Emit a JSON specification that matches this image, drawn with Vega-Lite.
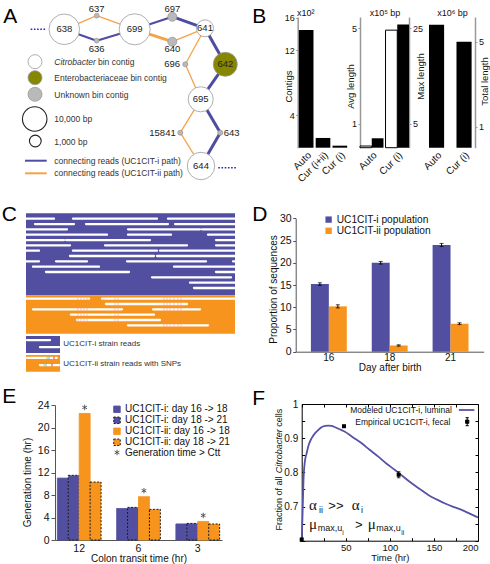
{
"$schema":"https://vega.github.io/schema/vega-lite/v6.json",
"padding":0,
"columns":2,
"spacing":0,
"bounds":"flush",
"align":"each",
"resolve":{
 "scale":{"x":"independent","y":"independent","xOffset":"independent","color":"independent","fill":"independent","stroke":"independent","strokeDash":"independent","size":"independent","shape":"independent","strokeWidth":"independent"},
 "legend":{"color":"independent","fill":"independent","stroke":"independent","strokeDash":"independent","size":"independent","shape":"independent","strokeWidth":"independent"},
 "axis":{"x":"independent","y":"independent"}
},
"config":{
 "view":{"stroke":null},
 "font":"Liberation Sans",
 "axis":{"grid":false,"labelOverlap":false,"labelFont":"Liberation Sans","titleFont":"Liberation Sans","titleFontWeight":"normal","labelColor":"#111","titleColor":"#111"},
 "legend":{"labelFont":"Liberation Sans","labelColor":"#111","padding":0},
 "text":{"font":"Liberation Sans"}
},
"datasets":{
 "nodes":[
  {"id":"638","x":64.3,"y":29.3,"kind":"Citrobacter","length":20000},
  {"id":"699","x":134.7,"y":29.3,"kind":"Citrobacter","length":21000},
  {"id":"637","x":96.7,"y":15.7,"kind":"Unknown","length":60},
  {"id":"636","x":96.7,"y":40.7,"kind":"Unknown","length":60},
  {"id":"697","x":172.3,"y":16.7,"kind":"Unknown","length":440},
  {"id":"640","x":172.3,"y":41.7,"kind":"Unknown","length":440},
  {"id":"641","x":205,"y":28.3,"kind":"Citrobacter","length":3200},
  {"id":"642","x":225.3,"y":64.3,"kind":"Enterobacteriaceae","length":9400},
  {"id":"696","x":185.3,"y":64.3,"kind":"Unknown","length":70},
  {"id":"695","x":200.7,"y":99.3,"kind":"Citrobacter","length":10700},
  {"id":"15841","x":180.3,"y":132.7,"kind":"Unknown","length":70},
  {"id":"643","x":220.3,"y":132.7,"kind":"Unknown","length":70},
  {"id":"644","x":201,"y":166,"kind":"Citrobacter","length":14300}
 ],
 "edges":[
  {"from":"638","to":"637","path":"UC1CIT-ii","reads":1},
  {"from":"637","to":"699","path":"UC1CIT-ii","reads":1},
  {"from":"638","to":"636","path":"UC1CIT-i","reads":2},
  {"from":"636","to":"699","path":"UC1CIT-i","reads":2},
  {"from":"699","to":"697","path":"UC1CIT-i","reads":2},
  {"from":"697","to":"641","path":"UC1CIT-i","reads":3},
  {"from":"699","to":"640","path":"UC1CIT-ii","reads":3},
  {"from":"640","to":"641","path":"UC1CIT-ii","reads":1},
  {"from":"641","to":"642","path":"UC1CIT-i","reads":3},
  {"from":"642","to":"695","path":"UC1CIT-i","reads":3},
  {"from":"641","to":"696","path":"UC1CIT-ii","reads":1},
  {"from":"696","to":"695","path":"UC1CIT-ii","reads":1},
  {"from":"695","to":"15841","path":"UC1CIT-ii","reads":1},
  {"from":"15841","to":"644","path":"UC1CIT-ii","reads":1},
  {"from":"695","to":"643","path":"UC1CIT-i","reads":3},
  {"from":"643","to":"644","path":"UC1CIT-i","reads":3}
 ],
 "adots":[{"x":30.7,"x2":46.7,"y":29.3},{"x":218.3,"x2":236,"y":167.7}],
 "alabels":[
  {"id":"638","x":64.3,"y":29.3,"anchor":"middle"},
  {"id":"699","x":134.7,"y":29.3,"anchor":"middle"},
  {"id":"641","x":205,"y":28.3,"anchor":"middle"},
  {"id":"642","x":225.3,"y":64.3,"anchor":"middle"},
  {"id":"695","x":200.7,"y":99.3,"anchor":"middle"},
  {"id":"644","x":201,"y":166,"anchor":"middle"},
  {"id":"637","x":96.7,"y":9,"anchor":"middle"},
  {"id":"636","x":96.7,"y":49,"anchor":"middle"},
  {"id":"697","x":172.3,"y":9.3,"anchor":"middle"},
  {"id":"640","x":172.3,"y":49.3,"anchor":"middle"},
  {"id":"696","x":180,"y":64.3,"anchor":"end"},
  {"id":"15841","x":175.7,"y":132.7,"anchor":"end"},
  {"id":"643","x":223.7,"y":132.7,"anchor":"start"}
 ],
 "akind":[{"kind":"Citrobacter","x":35,"y":61.7},{"kind":"Enterobacteriaceae","x":35,"y":77.7},{"kind":"Unknown","x":35,"y":94.3}],
 "asize":[{"length":10000,"x":34.7,"y":119},{"length":1000,"x":35.3,"y":141}],
 "alines":[{"path":"UC1CIT-i","x":25,"x2":46.7,"y":160.7},{"path":"UC1CIT-ii","x":25,"x2":46.7,"y":173.3}],
 "atext":[
  {"text":"bin contig","x":98,"y":62.3},
  {"text":"Enterobacteriaceae bin contig","x":54.3,"y":78.3},
  {"text":"Unknown bin contig","x":54.3,"y":95},
  {"text":"10,000 bp","x":54.3,"y":119.3},
  {"text":"1,000 bp","x":54.3,"y":141.7},
  {"text":"connecting reads (UC1CIT-i path)","x":54.3,"y":160.7},
  {"text":"connecting reads (UC1CIT-ii path)","x":54.3,"y":173.3}
 ],
 "aital":[{"text":"Citrobacter","x":54.3,"y":62.3}],
 "aletter":[{"text":"A","x":3.3,"y":23.3}],
 "cletter":[{"text":"C","x":1.7,"y":1.49}],
 "cblocks":[
  {"x":26,"x2":235,"y":0,"y2":15.37,"strain":"UC1CIT-i"},
  {"x":26,"x2":235,"y":15.37,"y2":22.6,"strain":"UC1CIT-ii"},
  {"x":26,"x2":60,"y":23.0,"y2":26.2,"strain":"UC1CIT-i"},
  {"x":26,"x2":60,"y":26.55,"y2":29.7,"strain":"UC1CIT-ii"}
 ],
 "creads":[
  {"y":1,"x":26,"x2":54},{"y":1,"x":73,"x2":157},{"y":1,"x":168,"x2":235},
  {"y":2,"x":35,"x2":74},{"y":2,"x":86,"x2":168},{"y":2,"x":175,"x2":235},
  {"y":3,"x":26,"x2":67},{"y":3,"x":128,"x2":200},{"y":3,"x":202,"x2":235},
  {"y":4,"x":26,"x2":107},{"y":4,"x":128,"x2":171},{"y":4,"x":208,"x2":235},
  {"y":5,"x":26,"x2":64},{"y":5,"x":66,"x2":150},{"y":5,"x":216,"x2":235},
  {"y":6,"x":26,"x2":70},{"y":6,"x":105,"x2":187},{"y":6,"x":216,"x2":235},
  {"y":7,"x":26,"x2":39},{"y":7,"x":73,"x2":157},{"y":7,"x":160,"x2":235},
  {"y":8,"x":70,"x2":154},{"y":8,"x":157,"x2":235},
  {"y":9,"x":26,"x2":39},{"y":9,"x":56,"x2":87},{"y":9,"x":127,"x2":206},{"y":9,"x":233,"x2":235},
  {"y":10,"x":33,"x2":99},{"y":10,"x":174,"x2":235},
  {"y":11,"x":46,"x2":129},{"y":11,"x":216,"x2":235},
  {"y":12,"x":152,"x2":231},
  {"y":13,"x":190,"x2":235},
  {"y":14,"x":194,"x2":235}
 ],
 "creads2":[
  {"y":16,"x":26,"x2":89,"snps":[78,81,84,87]},
  {"y":16,"x":102,"x2":235,"snps":[115,118,164,167,170,174,178,181]},
  {"y":17,"x":106,"x2":187,"snps":[115,118,164,167,170,174,178,181]},
  {"y":18,"x":33,"x2":122,"snps":[78,81,84,87,115,118]},
  {"y":18,"x":153,"x2":200,"snps":[164,167,170,174,178,181]},
  {"y":19,"x":71,"x2":154,"snps":[78,81,84,87,115,118]},
  {"y":20,"x":77,"x2":160,"snps":[78,81,84,87,115,118]},
  {"y":21,"x":128,"x2":208,"snps":[164,167,170,174,178,181]}
 ],
 "clines":[{"x":27,"x2":50,"y":23.76},{"x":40,"x2":59,"y":25.1},{"x":27,"x2":56.7,"y":27.1},{"x":40,"x2":59,"y":28.45}],
 "csnp":[{"x":47,"y":27.1,"base":"G"},{"x":49,"y":27.1,"base":"C"},{"x":54,"y":27.1,"base":"T"},{"x":44,"y":28.45,"base":"G"},{"x":46,"y":28.45,"base":"C"},{"x":52,"y":28.45,"base":"T"}],
 "ctext":[{"text":"UC1CIT-i strain reads","x":63.3,"y":24.56},{"text":"UC1CIT-ii strain reads with SNPs","x":63.3,"y":28.2}],
 "bcontigs":[{"cat":"Auto","contigs":14.5},{"cat":"Cur (i+ii)","contigs":1.2},{"cat":"Cur (i)","contigs":0.25}],
 "blength":[{"cat":"Auto","avg":0.07,"max":1.97},{"cat":"Cur (i)","avg":4.92,"max":25.8}],
 "btotal":[{"cat":"Auto","total":5.8},{"cat":"Cur (i)","total":5.0}],
 "ddata":[
  {"day":"16","pop":"UC1CIT-i population","value":15.2,"lo":14.9,"hi":15.5},
  {"day":"16","pop":"UC1CIT-ii population","value":10.2,"lo":9.85,"hi":10.55},
  {"day":"18","pop":"UC1CIT-i population","value":20.0,"lo":19.7,"hi":20.3},
  {"day":"18","pop":"UC1CIT-ii population","value":1.4,"lo":1.25,"hi":1.55},
  {"day":"21","pop":"UC1CIT-i population","value":24.0,"lo":23.65,"hi":24.35},
  {"day":"21","pop":"UC1CIT-ii population","value":6.3,"lo":6.1,"hi":6.5}
 ],
 "edata":[
  {"ctt":"12","series":"UC1CIT-i: day 16 -> 18","gen":11.0},
  {"ctt":"12","series":"UC1CIT-i: day 18 -> 21","gen":11.5},
  {"ctt":"12","series":"UC1CIT-ii: day 16 -> 18","gen":22.5},
  {"ctt":"12","series":"UC1CIT-ii: day 18 -> 21","gen":10.3},
  {"ctt":"6","series":"UC1CIT-i: day 16 -> 18","gen":5.6},
  {"ctt":"6","series":"UC1CIT-i: day 18 -> 21","gen":5.8},
  {"ctt":"6","series":"UC1CIT-ii: day 16 -> 18","gen":7.7},
  {"ctt":"6","series":"UC1CIT-ii: day 18 -> 21","gen":5.45},
  {"ctt":"3","series":"UC1CIT-i: day 16 -> 18","gen":2.85},
  {"ctt":"3","series":"UC1CIT-i: day 18 -> 21","gen":2.95},
  {"ctt":"3","series":"UC1CIT-ii: day 16 -> 18","gen":3.3},
  {"ctt":"3","series":"UC1CIT-ii: day 18 -> 21","gen":2.85}
 ],
 "fcurve":[
  {"t":0,"v":0.6},{"t":1,"v":0.68},{"t":2,"v":0.775},{"t":3.5,"v":0.83},{"t":5.6,"v":0.856},{"t":8,"v":0.881},
  {"t":11.3,"v":0.9},{"t":15,"v":0.914},{"t":18.9,"v":0.924},{"t":22,"v":0.931},{"t":26.4,"v":0.936},{"t":30.2,"v":0.937},
  {"t":34,"v":0.936},{"t":37.8,"v":0.932},{"t":43,"v":0.926},{"t":49.1,"v":0.919},{"t":58,"v":0.903},{"t":68.1,"v":0.885},
  {"t":77,"v":0.866},{"t":86.9,"v":0.846},{"t":96,"v":0.826},{"t":105.8,"v":0.807},{"t":115,"v":0.788},{"t":124.8,"v":0.768},
  {"t":134,"v":0.751},{"t":143.6,"v":0.734},{"t":153,"v":0.721},{"t":162.6,"v":0.709},{"t":172,"v":0.699},{"t":181.5,"v":0.69},
  {"t":190,"v":0.68},{"t":200,"v":0.668}
 ],
 "femp":[{"t":0,"v":0.603,"lo":0.598,"hi":0.608},{"t":48,"v":0.935,"lo":0.933,"hi":0.937},{"t":110,"v":0.793,"lo":0.784,"hi":0.802}],
 "fann":[
  {"t":8.3,"v":0.69,"text":"α","role":"greek"},
  {"t":19.6,"v":0.681,"text":"ii","role":"sub"},
  {"t":30.2,"v":0.69,"text":">>","role":"op"},
  {"t":56.7,"v":0.69,"text":"α","role":"greek"},
  {"t":67.3,"v":0.681,"text":"i","role":"sub"},
  {"t":8.3,"v":0.634,"text":"μ","role":"greek"},
  {"t":18.1,"v":0.627,"text":"max,u","role":"sub"},
  {"t":46.1,"v":0.618,"text":"i","role":"subsub"},
  {"t":60.5,"v":0.634,"text":">","role":"op"},
  {"t":75,"v":0.634,"text":"μ","role":"greek"},
  {"t":84.7,"v":0.627,"text":"max,u","role":"sub"},
  {"t":113,"v":0.618,"text":"ii","role":"subsub"}
 ]
},
"concat":[
 {
  "width":250,"height":190,
  "encoding":{
   "x":{"field":"x","type":"quantitative","scale":{"domain":[0,250],"range":[0,250],"nice":false,"zero":false},"axis":null},
   "y":{"field":"y","type":"quantitative","scale":{"domain":[0,190],"range":[0,190],"nice":false,"zero":false},"axis":null}
  },
  "layer":[
   {"data":{"name":"edges"},
    "transform":[
     {"lookup":"from","from":{"data":{"name":"nodes"},"key":"id","fields":["x","y"]}},
     {"lookup":"to","from":{"data":{"name":"nodes"},"key":"id","fields":["x","y"]},"as":["x2","y2"]}
    ],
    "mark":{"type":"rule"},
    "encoding":{"x2":{"field":"x2"},"y2":{"field":"y2"},
     "color":{"field":"path","type":"nominal","scale":{"domain":["UC1CIT-i","UC1CIT-ii"],"range":["#4f4d9f","#f5a24a"]},"legend":null},
     "strokeWidth":{"field":"reads","type":"quantitative","scale":{"domain":[1,3],"range":[1.3,3]},"legend":null}}},
   {"data":{"name":"adots"},"mark":{"type":"rule","color":"#2b2bb0","strokeWidth":1.6,"strokeDash":[1.6,1.6]},"encoding":{"x2":{"field":"x2"}}},
   {"data":{"name":"alines"},"mark":{"type":"rule","strokeWidth":2},"encoding":{"x2":{"field":"x2"},"color":{"field":"path","type":"nominal","legend":null}}},
   {"data":{"name":"nodes"},"mark":{"type":"circle","opacity":1,"stroke":"#9a9a9a","strokeWidth":0.8},
    "encoding":{"size":{"field":"length","type":"quantitative","scale":{"type":"pow","exponent":0.64,"domain":[0,10000],"range":[0,600]},"legend":null},
     "fill":{"field":"kind","type":"nominal","scale":{"domain":["Citrobacter","Enterobacteriaceae","Unknown"],"range":["#ffffff","#878600","#b9b9b9"]},"legend":null}}},
   {"data":{"name":"akind"},"mark":{"type":"circle","opacity":1,"size":196,"stroke":"#9a9a9a","strokeWidth":0.8},"encoding":{"fill":{"field":"kind","type":"nominal","legend":null}}},
   {"data":{"name":"asize"},"mark":{"type":"circle","opacity":1,"fill":"#ffffff","stroke":"#222","strokeWidth":1.1},"encoding":{"size":{"field":"length","type":"quantitative","legend":null}}},
   {"data":{"name":"alabels"},"transform":[{"filter":"datum.anchor=='middle'"}],"mark":{"type":"text","fontSize":9.5,"color":"#222","baseline":"middle","align":"center"},"encoding":{"text":{"field":"id","type":"nominal"}}},
   {"data":{"name":"alabels"},"transform":[{"filter":"datum.anchor=='end'"}],"mark":{"type":"text","fontSize":9.5,"color":"#222","baseline":"middle","align":"right"},"encoding":{"text":{"field":"id","type":"nominal"}}},
   {"data":{"name":"alabels"},"transform":[{"filter":"datum.anchor=='start'"}],"mark":{"type":"text","fontSize":9.5,"color":"#222","baseline":"middle","align":"left"},"encoding":{"text":{"field":"id","type":"nominal"}}},
   {"data":{"name":"atext"},"mark":{"type":"text","fontSize":8.5,"color":"#333","align":"left","baseline":"middle"},"encoding":{"text":{"field":"text","type":"nominal"}}},
   {"data":{"name":"aital"},"mark":{"type":"text","fontSize":8.5,"color":"#333","align":"left","baseline":"middle","fontStyle":"italic"},"encoding":{"text":{"field":"text","type":"nominal"}}},
   {"data":{"name":"aletter"},"mark":{"type":"text","fontSize":21,"color":"#000","align":"left","baseline":"alphabetic"},"encoding":{"text":{"field":"text","type":"nominal"}}}
  ]
 },
 {
  "width":240,"height":190,
  "resolve":{"scale":{"x":"independent","y":"independent"},"axis":{"x":"independent","y":"independent"}},
  "layer":[
   {"data":{"name":"bcontigs"},
    "mark":{"type":"bar","color":"#000"},
    "encoding":{
     "x":{"field":"cat","type":"nominal","sort":["Auto","Cur (i+ii)","Cur (i)"],"scale":{"range":[48,98],"paddingInner":0.13,"paddingOuter":0.05},
      "axis":{"orient":"bottom","offset":-42.3,"labelAngle":-45,"domain":false,"ticks":false,"labelPadding":2,"labelFontSize":10,"title":"x10²","titleFontSize":9,"titleX":46.5,"titleY":-132.5,"titleAlign":"left","titleBaseline":"alphabetic","titleAngle":0}},
     "y":{"field":"contigs","type":"quantitative","scale":{"domain":[0,16.1],"range":[147.7,17],"nice":false,"zero":false},
      "axis":{"orient":"left","offset":-47.7,"values":[4,12,16],"domainColor":"#999","domainWidth":1.5,"tickColor":"#999","tickSize":2,"labelPadding":1.5,"labelFontSize":9,"title":"Contigs","titleFontSize":9.5,"titleX":-9.4,"titleY":86,"titleAngle":270,"titleBaseline":"middle","titleAlign":"center"}}
    }},
   {"data":{"name":"blength"},
    "transform":[{"fold":["avg","max"],"as":["measure","value"]},{"filter":"datum.measure=='avg'"}],
    "mark":{"type":"bar","fill":"#fff","stroke":"#000","strokeWidth":1},
    "encoding":{
     "x":{"field":"cat","type":"nominal","sort":["Auto","Cur (i)"],"scale":{"range":[110,159],"paddingInner":0.08,"paddingOuter":0},
      "axis":{"orient":"bottom","offset":-42.3,"labelAngle":-45,"domain":false,"ticks":false,"labelPadding":2,"labelFontSize":10,"title":"x10⁵ bp","titleFontSize":9,"titleX":134.5,"titleY":-132.5,"titleAlign":"center","titleBaseline":"alphabetic","titleAngle":0}},
     "xOffset":{"field":"measure","type":"nominal","scale":{"domain":["avg","max"]}},
     "y":{"field":"value","type":"quantitative","scale":{"domain":[0,5.47],"range":[147.7,17],"nice":false,"zero":false},
      "axis":{"orient":"left","offset":-110,"values":[1,5],"domainColor":"#999","domainWidth":1.5,"tickColor":"#999","tickSize":2,"labelPadding":1.5,"labelFontSize":9,"title":"Avg length","titleFontSize":9.5,"titleX":-10,"titleY":86,"titleAngle":270,"titleBaseline":"middle","titleAlign":"center"}}
    }},
   {"data":{"name":"blength"},
    "transform":[{"fold":["avg","max"],"as":["measure","value"]},{"filter":"datum.measure=='max'"}],
    "mark":{"type":"bar","color":"#000"},
    "encoding":{
     "x":{"field":"cat","type":"nominal","sort":["Auto","Cur (i)"],"scale":{"range":[110,159],"paddingInner":0.08,"paddingOuter":0},
      "axis":{"orient":"bottom","offset":-42.3,"domain":false,"ticks":false,"labels":false,"title":"B","titleFontSize":21,"titleColor":"#000","titleX":1.7,"titleY":-125.7,"titleAlign":"left","titleBaseline":"alphabetic","titleAngle":0}},
     "xOffset":{"field":"measure","type":"nominal","scale":{"domain":["avg","max"]}},
     "y":{"field":"value","type":"quantitative","scale":{"domain":[0,27.35],"range":[147.7,17],"nice":false,"zero":false},
      "axis":{"orient":"right","offset":-81,"values":[5,25],"domainColor":"#999","domainWidth":1.5,"tickColor":"#999","tickSize":2,"labelPadding":1.5,"labelFontSize":9,"title":"Max length","titleFontSize":9.5,"titleX":11,"titleY":76,"titleAngle":270,"titleBaseline":"middle","titleAlign":"center"}}
    }},
   {"data":{"name":"btotal"},
    "mark":{"type":"bar","color":"#000"},
    "encoding":{
     "x":{"field":"cat","type":"nominal","sort":["Auto","Cur (i)"],"scale":{"range":[173.5,227.1],"paddingInner":0.45,"paddingOuter":0.2},
      "axis":{"orient":"bottom","offset":-42.3,"labelAngle":-45,"domain":false,"ticks":false,"labelPadding":2,"labelFontSize":10,"title":"x10⁶ bp","titleFontSize":9,"titleX":202,"titleY":-132.5,"titleAlign":"center","titleBaseline":"alphabetic","titleAngle":0}},
     "y":{"field":"total","type":"quantitative","scale":{"domain":[0,6.17],"range":[147.7,17],"nice":false,"zero":false},
      "axis":{"orient":"right","offset":-15,"values":[1,5],"domainColor":"#999","domainWidth":1.5,"tickColor":"#999","tickSize":2,"labelPadding":1.5,"labelFontSize":9,"title":"Total length","titleFontSize":9.5,"titleX":9,"titleY":81,"titleAngle":270,"titleBaseline":"middle","titleAlign":"center"}}
    }}
  ]
 },
 {
  "width":250,"height":190,
  "encoding":{
   "x":{"field":"x","type":"quantitative","scale":{"domain":[0,250],"range":[0,250],"nice":false,"zero":false},"axis":null},
   "y":{"field":"y","type":"quantitative","scale":{"domain":[0,30],"range":[23.37,183.3],"nice":false,"zero":false},"axis":null}
  },
  "layer":[
   {"data":{"name":"cblocks"},"mark":{"type":"rect"},"encoding":{"x2":{"field":"x2"},"y2":{"field":"y2"},
     "fill":{"field":"strain","type":"nominal","scale":{"domain":["UC1CIT-i","UC1CIT-ii"],"range":["#524fa1","#f7941d"]},"legend":null}}},
   {"data":{"name":"creads"},"mark":{"type":"rule","color":"#ffffff","strokeWidth":2.3,"strokeCap":"round"},"encoding":{"x2":{"field":"x2"}}},
   {"data":{"name":"creads2"},"mark":{"type":"rule","color":"#ffffff","strokeWidth":2.3,"strokeCap":"round"},"encoding":{"x2":{"field":"x2"}}},
   {"data":{"name":"creads2"},"transform":[{"flatten":["snps"],"as":["snp"]}],"mark":{"type":"tick","orient":"vertical","color":"#f29bb6","thickness":0.9,"size":2.6},
    "encoding":{"x":{"field":"snp","type":"quantitative","axis":null}}},
   {"data":{"name":"clines"},"mark":{"type":"rule","color":"#ffffff","strokeWidth":2.3,"strokeCap":"round"},"encoding":{"x2":{"field":"x2"}}},
   {"data":{"name":"csnp"},"mark":{"type":"tick","orient":"vertical","thickness":1.2,"size":2.6},
    "encoding":{"color":{"field":"base","type":"nominal","scale":{"domain":["G","C","T"],"range":["#8cc63f","#29abe2","#d7191c"]},"legend":null}}},
   {"data":{"name":"ctext"},"mark":{"type":"text","fontSize":8,"color":"#333","align":"left","baseline":"middle"},"encoding":{"text":{"field":"text","type":"nominal"}}},
   {"data":{"name":"cletter"},"mark":{"type":"text","fontSize":21,"color":"#000","align":"left","baseline":"alphabetic"},"encoding":{"text":{"field":"text","type":"nominal"}}}
  ]
 },
 {
  "width":240,"height":190,
  "data":{"name":"ddata"},
  "resolve":{"axis":{"y":"independent"}},
  "encoding":{
   "x":{"field":"day","type":"nominal","sort":["16","18","21"],"scale":{"range":[45.7,233.7],"paddingInner":0.41,"paddingOuter":0.25},
    "axis":{"orient":"bottom","offset":-28.3,"labelAngle":0,"ticks":false,"labelPadding":1,"labelFontSize":10,"title":"Day after birth","titleFontSize":10,"titleY":19,"titleBaseline":"alphabetic","domainColor":"#555"}},
   "xOffset":{"field":"pop","type":"nominal","sort":["UC1CIT-i population","UC1CIT-ii population"]}
  },
  "layer":[
   {"mark":{"type":"bar"},
    "encoding":{
     "y":{"field":"value","type":"quantitative","scale":{"domain":[0,30],"range":[161.7,28.3],"nice":false,"zero":false},
      "axis":{"orient":"left","offset":-45.7,"values":[0,5,10,15,20,25,30],"tickSize":3,"labelPadding":1.5,"labelFontSize":10.5,"title":"Proportion of sequences","titleFontSize":10,"titleX":-22.4,"titleY":99,"titleAngle":270,"titleBaseline":"middle","titleAlign":"center","domainColor":"#555","tickColor":"#555"}},
     "color":{"field":"pop","type":"nominal","scale":{"domain":["UC1CIT-i population","UC1CIT-ii population"],"range":["#524fa1","#f7941d"]},
      "legend":{"orient":"none","legendX":73.5,"legendY":24.5,"title":null,"symbolType":"square","symbolSize":40,"symbolStrokeWidth":0,"labelFontSize":10.2,"rowPadding":0.2,"labelOffset":3}}
    }},
   {"mark":{"type":"rule","color":"#000","strokeWidth":1},"encoding":{
     "y":{"field":"lo","type":"quantitative","axis":{"orient":"left","offset":-45.7,"domain":false,"ticks":false,"labels":false,"title":"D","titleFontSize":21,"titleColor":"#000","titleAngle":0,"titleX":-44,"titleY":30.5,"titleAlign":"left","titleBaseline":"alphabetic"}},
     "y2":{"field":"hi"}}},
   {"mark":{"type":"tick","color":"#000","thickness":1,"size":4},"encoding":{"y":{"field":"lo","type":"quantitative","axis":null}}},
   {"mark":{"type":"tick","color":"#000","thickness":1,"size":4},"encoding":{"y":{"field":"hi","type":"quantitative","axis":null}}}
  ]
 },
 {
  "width":250,"height":184,
  "data":{"name":"edata"},
  "resolve":{"axis":{"y":"independent"}},
  "encoding":{
   "x":{"field":"ctt","type":"nominal","sort":["12","6","3"],"scale":{"range":[55,222],"paddingInner":0.263,"paddingOuter":0.04},
    "axis":{"orient":"bottom","offset":-24,"labelAngle":0,"ticks":false,"labelPadding":3,"labelFontSize":10.5,"title":"Colon transit time (hr)","titleFontSize":10,"titleY":21,"titleBaseline":"alphabetic","domainColor":"#555"}},
   "xOffset":{"field":"series","type":"nominal","sort":["UC1CIT-i: day 16 -> 18","UC1CIT-i: day 18 -> 21","UC1CIT-ii: day 16 -> 18","UC1CIT-ii: day 18 -> 21"]}
  },
  "layer":[
   {"mark":{"type":"bar","strokeWidth":1},
    "encoding":{
     "y":{"field":"gen","type":"quantitative","scale":{"domain":[0,24],"range":[160,25],"nice":false,"zero":false},
      "axis":{"orient":"left","offset":-55,"values":[0,4,8,12,16,20,24],"tickSize":4,"labelPadding":2,"labelFontSize":10.5,"title":"Generation time (hr)","titleFontSize":10,"titleX":-27.5,"titleY":102,"titleAngle":270,"titleBaseline":"middle","titleAlign":"center","domainColor":"#555","tickColor":"#555"}},
     "fill":{"field":"series","type":"nominal","scale":{"domain":["UC1CIT-i: day 16 -> 18","UC1CIT-i: day 18 -> 21","UC1CIT-ii: day 16 -> 18","UC1CIT-ii: day 18 -> 21"],"range":["#524fa1","#524fa1","#f7941d","#f7941d"]},
      "legend":{"orient":"none","legendX":112,"legendY":24.3,"title":null,"symbolType":"square","symbolSize":42,"labelFontSize":10,"rowPadding":-2.2,"labelOffset":3,"symbolStrokeWidth":1}},
     "stroke":{"field":"series","type":"nominal","scale":{"domain":["UC1CIT-i: day 16 -> 18","UC1CIT-i: day 18 -> 21","UC1CIT-ii: day 16 -> 18","UC1CIT-ii: day 18 -> 21"],"range":["#524fa1","#1a1a1a","#f7941d","#1a1a1a"]}},
     "strokeDash":{"field":"series","type":"nominal","scale":{"domain":["UC1CIT-i: day 16 -> 18","UC1CIT-i: day 18 -> 21","UC1CIT-ii: day 16 -> 18","UC1CIT-ii: day 18 -> 21"],"range":[[1,0],[2,1.5],[1,0],[2,1.5]]}}
    }},
   {"transform":[{"filter":"datum.gen > toNumber(datum.ctt)"}],
    "mark":{"type":"point","filled":false,"size":30,"strokeWidth":0.9,"color":"#000","yOffset":-6},
    "encoding":{
     "y":{"field":"gen","type":"quantitative","axis":{"orient":"left","offset":-55,"domain":false,"ticks":false,"labels":false,"title":"E","titleFontSize":21,"titleColor":"#000","titleAngle":0,"titleX":-53.3,"titleY":22.7,"titleAlign":"left","titleBaseline":"alphabetic"}},
     "shape":{"datum":"Generation time > Ctt","scale":{"range":["M0,-1L0,1M-0.87,-0.5L0.87,0.5M-0.87,0.5L0.87,-0.5"]},
      "legend":{"orient":"none","legendX":112,"legendY":67.5,"title":null,"symbolStrokeColor":"#000","symbolFillColor":"transparent","symbolSize":30,"symbolStrokeWidth":0.9,"labelFontSize":10,"labelOffset":3}}}}
  ]
 },
 {
  "width":240,"height":184,
  "resolve":{"axis":{"x":"independent","y":"independent"}},
  "layer":[
   {"data":{"name":"fcurve"},"mark":{"type":"line","strokeWidth":1.8,"interpolate":"monotone"},
    "encoding":{
     "x":{"field":"t","type":"quantitative","scale":{"domain":[0,200],"range":[51.7,228],"nice":false,"zero":false},
      "axis":{"orient":"bottom","offset":-23.3,"values":[0,25,50,75,100,125,150,175,200],"format":"d","labelExpr":"datum.value % 50 == 0 && datum.value > 0 ? datum.label : ''","tickSize":-3,"labelPadding":4.5,"labelFontSize":9.5,"title":"Time (hr)","titleFontSize":9.5,"titleY":19.8,"titleBaseline":"alphabetic","domainColor":"#000","tickColor":"#000"}},
     "y":{"field":"v","type":"quantitative","scale":{"domain":[0.6,1],"range":[160.7,24],"nice":false,"zero":false},
      "axis":{"orient":"left","offset":-51.7,"values":[0.6,0.65,0.7,0.75,0.8,0.85,0.9,0.95,1],"format":".1~f","labelExpr":"(datum.value==0.7||datum.value==0.8||datum.value==0.9||datum.value==1) ? datum.label : ''","tickSize":-3,"labelPadding":7,"labelFontSize":10,"title":"Fraction of all","titleFontSize":9,"titleX":-23.4,"titleY":150,"titleAngle":270,"titleAlign":"left","titleBaseline":"middle","domainColor":"#000","tickColor":"#000"}},
     "color":{"datum":"Modeled UC1CIT-i, luminal","scale":{"range":["#5652a6"]},
      "legend":{"orient":"none","legendX":207.6,"legendY":21,"title":null,"symbolType":"stroke","symbolSize":240,"symbolStrokeWidth":1.8,"labelAlign":"right","labelOffset":-23.8,"labelFontSize":8.5}}
    }},
   {"data":{"name":"femp"},"mark":{"type":"square","size":16,"opacity":1},
    "encoding":{
     "x":{"field":"t","type":"quantitative","axis":{"orient":"top","offset":-24,"values":[0,25,50,75,100,125,150,175,200],"labels":false,"tickSize":-3,"title":null,"domainColor":"#000","tickColor":"#000"}},
     "y":{"field":"v","type":"quantitative","axis":{"orient":"right","offset":-12,"values":[0.6,0.65,0.7,0.75,0.8,0.85,0.9,0.95,1],"labels":false,"tickSize":-3,"title":null,"domainColor":"#000","tickColor":"#000"}},
     "fill":{"datum":"Empirical UC1CIT-i, fecal","scale":{"range":["#000000"]},
      "legend":{"orient":"none","legendX":212.7,"legendY":37.2,"title":null,"symbolType":"M-0.4,-0.4H0.4V0.4H-0.4Z M0,-1V1 M-0.4,-1H0.4 M-0.4,1H0.4","symbolSize":64,"symbolFillColor":"#000","symbolStrokeColor":"#000","symbolStrokeWidth":1,"labelAlign":"right","labelOffset":-21.4,"labelFontSize":8.5}}
    }},
   {"data":{"name":"femp"},"mark":{"type":"rule","color":"#000","strokeWidth":1},
    "encoding":{"x":{"field":"t","type":"quantitative","axis":null},
     "y":{"field":"lo","type":"quantitative","axis":{"orient":"left","offset":-51.7,"domain":false,"ticks":false,"labels":false,"title":"Citrobacter","titleFontStyle":"italic","titleFontSize":9,"titleX":-23.4,"titleY":92.8,"titleAngle":270,"titleAlign":"left","titleBaseline":"middle"}},
     "y2":{"field":"hi"}}},
   {"data":{"name":"femp"},"mark":{"type":"tick","orient":"horizontal","color":"#000","thickness":1,"size":3.5},
    "encoding":{"x":{"field":"t","type":"quantitative","axis":null},
     "y":{"field":"lo","type":"quantitative","axis":{"orient":"left","offset":-51.7,"domain":false,"ticks":false,"labels":false,"title":"cells","titleFontSize":9,"titleX":-23.4,"titleY":46.3,"titleAngle":270,"titleAlign":"left","titleBaseline":"middle"}}}},
   {"data":{"name":"femp"},"mark":{"type":"tick","orient":"horizontal","color":"#000","thickness":1,"size":3.5},
    "encoding":{"x":{"field":"t","type":"quantitative","axis":null},
     "y":{"field":"hi","type":"quantitative","axis":{"orient":"left","offset":-51.7,"domain":false,"ticks":false,"labels":false,"title":"F","titleFontSize":21,"titleColor":"#000","titleAngle":0,"titleX":-50,"titleY":24,"titleAlign":"left","titleBaseline":"alphabetic"}}}},
   {"data":{"name":"fann"},"transform":[{"filter":"datum.role=='greek'"}],"mark":{"type":"text","font":"Liberation Serif","fontSize":15,"align":"left","baseline":"alphabetic","color":"#111"},
    "encoding":{"x":{"field":"t","type":"quantitative","axis":null},"y":{"field":"v","type":"quantitative","axis":null},"text":{"field":"text","type":"nominal"}}},
   {"data":{"name":"fann"},"transform":[{"filter":"datum.role=='op'"}],"mark":{"type":"text","fontSize":13,"align":"left","baseline":"alphabetic","color":"#111"},
    "encoding":{"x":{"field":"t","type":"quantitative","axis":null},"y":{"field":"v","type":"quantitative","axis":null},"text":{"field":"text","type":"nominal"}}},
   {"data":{"name":"fann"},"transform":[{"filter":"datum.role=='sub'"}],"mark":{"type":"text","fontSize":9,"align":"left","baseline":"alphabetic","color":"#111"},
    "encoding":{"x":{"field":"t","type":"quantitative","axis":null},"y":{"field":"v","type":"quantitative","axis":null},"text":{"field":"text","type":"nominal"}}},
   {"data":{"name":"fann"},"transform":[{"filter":"datum.role=='subsub'"}],"mark":{"type":"text","fontSize":6.5,"align":"left","baseline":"alphabetic","color":"#111"},
    "encoding":{"x":{"field":"t","type":"quantitative","axis":null},"y":{"field":"v","type":"quantitative","axis":null},"text":{"field":"text","type":"nominal"}}}
  ]
 }
]
}
